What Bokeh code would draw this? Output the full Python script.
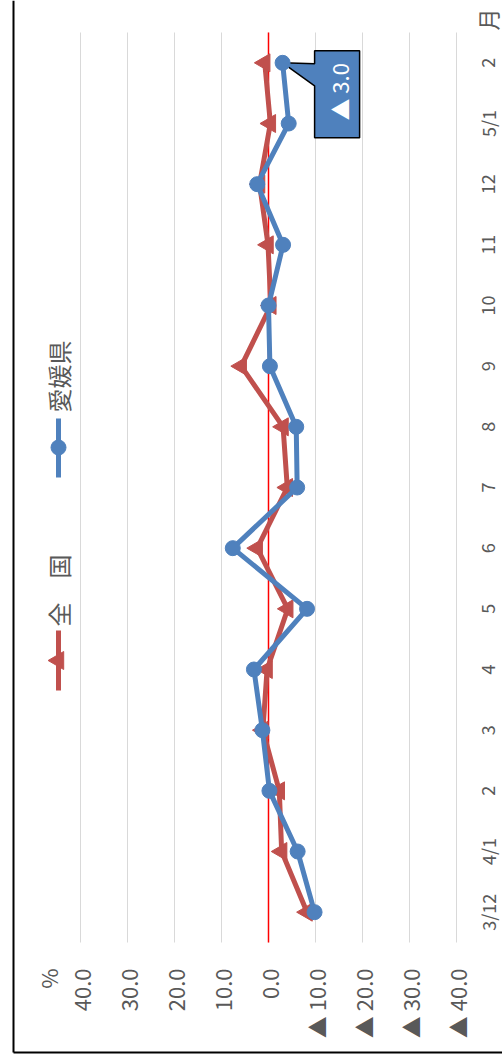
import math
from bokeh.plotting import figure
from bokeh.models import Range1d, FixedTicker, Label, ColumnDataSource
from bokeh.core.properties import value
from bokeh.embed import file_html
from bokeh.resources import INLINE

# ---------------- data ----------------
CATEGORIES = ["3/12", "4/1", "2", "3", "4", "5", "6", "7", "8", "9",
              "10", "11", "12", "5/1", "2"]
ZENKOKU = [-8.2, -2.8, -2.3, 1.2, 0.3, -4.1, 2.4, -4.0, -3.1, 5.8,
           -0.5, 0.1, 1.9, -0.4, 0.8]
EHIME = [-9.8, -6.2, -0.2, 1.3, 3.1, -8.2, 7.6, -6.1, -5.9, -0.3,
         0.0, -3.1, 2.4, -4.3, -3.0]
VALUE_TICKS = [40, 30, 20, 10, 0, -10, -20, -30, -40]
VALUE_TICK_LABELS = ["40.0", "30.0", "20.0", "10.0", "0.0",
                     "▲ 10.0", "▲ 20.0", "▲ 30.0", "▲ 40.0"]
SERIES_NAMES = ["全　国", "愛媛県"]
UNIT_LABEL = "%"
CATEGORY_TITLE = "月"

# ---------------- layout (canvas pixels) ----------------
W, H = 502, 1060
PLOT_T, PLOT_B = 32, 942          # plot area top / bottom
VMAX_PX, VMIN_PX = 80, 456        # x of largest / smallest value tick
VMAX, VMIN = max(VALUE_TICKS), min(VALUE_TICKS)
PPU = (VMIN_PX - VMAX_PX) / (VMAX - VMIN)
N = len(CATEGORIES)
CPX = (PLOT_B - PLOT_T) / N


def X(xp):
    return VMAX - (xp - VMAX_PX) / PPU


def Y(yp):
    return (PLOT_B - yp) / CPX - 0.5


def PX(v):
    return VMAX_PX + (VMAX - v) * PPU


def PY(i):
    return PLOT_B - (i + 0.5) * CPX


GRAY = "#595959"
RED = "#c0504d"
BLUE = "#4f81bd"
FONT = "Noto Sans CJK JP"

p = figure(width=W, height=H, output_backend="svg", toolbar_location=None,
           title=None,
           x_range=Range1d(X(0), X(W)), y_range=Range1d(Y(H), Y(0)),
           y_axis_location=None, min_border=0)
p.outline_line_color = None
p.background_fill_color = "white"
p.border_fill_color = "white"
p.xgrid.visible = False
p.ygrid.visible = False

# value axis (drawn inside the canvas at the bottom of the plot area)
ax = p.xaxis[0]
ax.fixed_location = -0.5
ax.ticker = FixedTicker(ticks=VALUE_TICKS)
ax.major_label_overrides = {t: l for t, l in zip(VALUE_TICKS, VALUE_TICK_LABELS)}
ax.major_label_orientation = math.pi / 2
ax.major_label_standoff = 26
ax.major_tick_out = 0
ax.major_tick_in = 0
ax.minor_tick_out = 0
ax.minor_tick_in = 0
ax.axis_line_color = None
ax.major_label_text_font = FONT
ax.major_label_text_font_size = "22px"
ax.major_label_text_color = GRAY

# gridlines and zero line, spanning the plot area only
nt = len(VALUE_TICKS)
p.segment(x0=VALUE_TICKS, y0=[-0.5] * nt, x1=VALUE_TICKS, y1=[N - 0.5] * nt,
          line_color="#d9d9d9", line_width=1)
p.segment(x0=[0], y0=[-0.5], x1=[0], y1=[N - 0.5], line_color="#ff0000",
          line_width=1.5)

# callout (drawn under series)
px0, py0 = PX(EHIME[-1]), PY(N - 1)
L, R, T, B = px0 + 32, px0 + 77, py0 - 12, py0 + 75
poly = [(L, T), (R, T), (R, B), (L, B), (L, py0 + 23), (px0, py0), (L, py0 + 1)]
p.patch([X(a) for a, b in poly], [Y(b) for a, b in poly],
        fill_color=BLUE, line_color="black", line_width=1.5)
v_last = EHIME[-1]
call_txt = ("▲ " if v_last < 0 else "") + f"{abs(v_last):.1f}"
p.add_layout(Label(x=X(px0 + 56), y=Y(py0 + 29), text=call_txt,
                   angle=math.pi / 2, text_align="center", text_baseline="middle",
                   text_font=FONT, text_font_size="22px", text_color="white"))

# series
src = ColumnDataSource(dict(idx=list(range(N)), zen=ZENKOKU, ehi=EHIME))
p.line(x="zen", y="idx", source=src, line_color=RED, line_width=5)
p.scatter(x="zen", y="idx", source=src, marker="triangle", size=18,
          angle=math.pi / 2, fill_color=RED, line_color=RED)
p.line(x="ehi", y="idx", source=src, line_color=BLUE, line_width=5)
p.scatter(x="ehi", y="idx", source=src, marker="circle", size=15,
          fill_color=BLUE, line_color=BLUE)

# category labels (right side)
cat_src = ColumnDataSource(dict(x=[X(487)] * N, y=list(range(N)), text=CATEGORIES))
p.text(x="x", y="y", text="text", source=cat_src, angle=math.pi / 2,
       text_align="center", text_baseline="middle", text_font=value(FONT),
       text_font_size="18px", text_color=GRAY)
p.add_layout(Label(x=X(486), y=Y(19), text=CATEGORY_TITLE, angle=math.pi / 2,
                   text_align="center", text_baseline="middle", text_font=FONT,
                   text_font_size="22px", text_color=GRAY))
p.add_layout(Label(x=X(47), y=Y(968), text=UNIT_LABEL, angle=math.pi / 2,
                   text_align="right", text_baseline="middle", text_font=FONT,
                   text_font_size="22px", text_color=GRAY))

# legend (rotated, hand placed)
lx = X(58)
p.line(x=[lx, lx], y=[Y(630), Y(690)], line_color=RED, line_width=5)
p.scatter(x=[lx], y=[Y(660)], marker="triangle", size=18, angle=math.pi / 2,
          fill_color=RED, line_color=RED)
p.add_layout(Label(x=lx, y=Y(590), text=SERIES_NAMES[0], angle=math.pi / 2,
                   text_align="center", text_baseline="middle", text_font=FONT,
                   text_font_size="24px", text_color=GRAY))
p.line(x=[lx, lx], y=[Y(418), Y(477)], line_color=BLUE, line_width=5)
p.scatter(x=[lx], y=[Y(447)], marker="circle", size=15,
          fill_color=BLUE, line_color=BLUE)
p.add_layout(Label(x=lx, y=Y(412), text=SERIES_NAMES[1], angle=math.pi / 2,
                   text_align="left", text_baseline="middle", text_font=FONT,
                   text_font_size="24px", text_color=GRAY))

# chart border (left and bottom edges visible)
p.segment(x0=[X(13), X(13)], y0=[Y(0), Y(1052)], x1=[X(13), X(W)], y1=[Y(1052), Y(1052)],
          line_color="black", line_width=2)

open("out.html", "w").write(file_html(p, INLINE))
